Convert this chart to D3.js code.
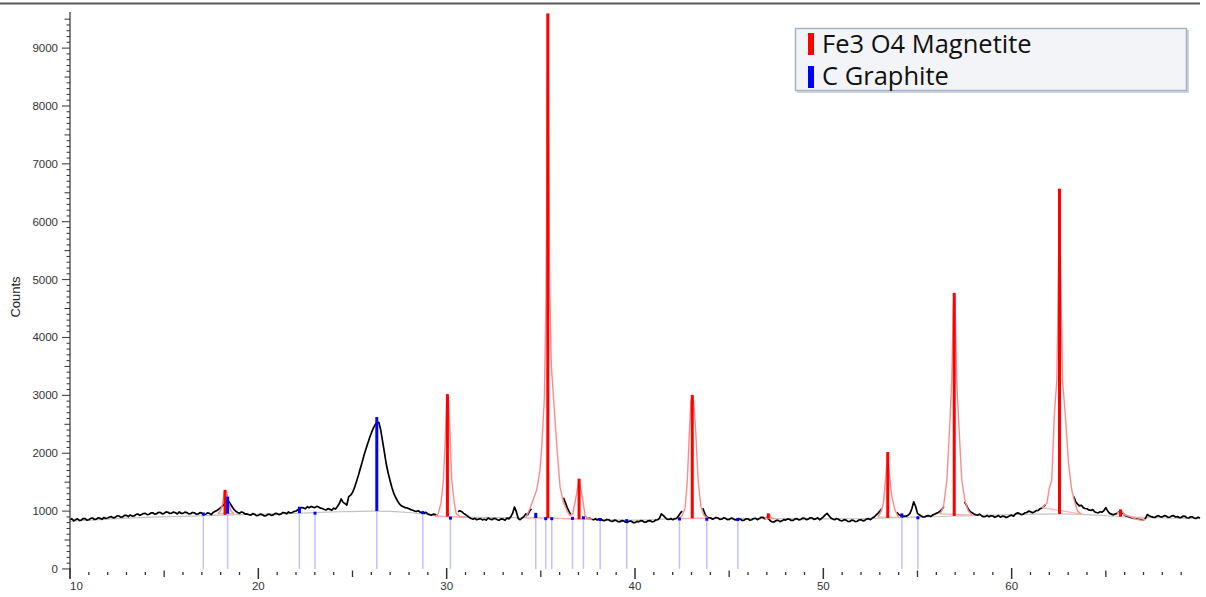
<!DOCTYPE html>
<html>
<head>
<meta charset="utf-8">
<script src="https://cdn.jsdelivr.net/npm/d3@7"></script>
<style>
  body { margin: 0; background: #fff; }
</style>
</head>
<body>
<div id="chart"></div>
<script>
// observed pattern, 2theta from 10 to 70 in 0.1 steps (null = hidden under calculated profile)
const obsStart = 10, obsStep = 0.1;
const obsCounts = [
  850, 868, 830, 852, 865, 838, 845, 872, 870, 842, 850, 875, 880, 855, 860, 884, 875, 858, 890, 872,
  880, 898, 905, 882, 890, 918, 915, 895, 900, 928, 925, 906, 935, 912, 915, 940, 950, 926, 940, 958,
  960, 938, 945, 968, 970, 948, 955, 978, 975, 952, 960, 985, 980, 958, 965, 982, 970, 950, 985, 962,
  960, 982, 975, 952, 955, 976, 970, 948, 950, 972, 965, 940, 945, 968, 960, 938, 975, 995, 1010, 1035,
  1060, 1090, 1120, 1150, 1180, 1130, 1080, 1030, 1000, 975, 960, 985, 975, 948, 950, 938, 930, 955, 945, 922,
  925, 948, 940, 918, 920, 942, 945, 925, 935, 960, 955, 938, 950, 975, 970, 952, 985, 968, 975, 995,
  1000, 1025, 1040, 1062, 1055, 1040, 1075, 1058, 1080, 1068, 1060, 1082, 1070, 1050, 1045, 1028, 1020, 1042, 1030, 1015,
  1050, 1035, 1080, 1130, 1210, 1150, 1130, 1105, 1250, 1275, 1320, 1400, 1500, 1600, 1720, 1830, 1950, 2060, 2160, 2260,
  2350, 2430, 2490, 2540, 2530, 2400, 2200, 2000, 1800, 1650, 1520, 1400, 1300, 1230, 1170, 1120, 1090, 1075, 1060, 1055,
  1040, 1025, 1015, 1000, 995, 1005, 980, 968, 965, 978, 950, 938, 930, 948, 940, 925, null, null, null, null,
  null, null, null, null, null, null, 990, 1005, 990, 960, 940, 915, 890, 872, 860, 875, 850, 862, 870, 848,
  860, 845, 880, 862, 850, 872, 870, 848, 845, 866, 860, 842, 880, 865, 900, 960, 1070, 990, 870, 852,
  880, 905, 950, 935, 1000, 1040, null, null, null, null, null, null, null, null, null, null, null, null, null, null,
  null, null, 1230, 1150, 1060, 990, 930, null, null, null, null, null, null, null, 890, 870, 875, 858, 850, 868,
  846, 868, 860, 838, 835, 855, 850, 828, 820, 842, 840, 818, 815, 836, 830, 808, 805, 826, 825, 802,
  800, 822, 815, 835, 830, 808, 810, 832, 835, 815, 820, 845, 850, 880, 950, 925, 890, 862, 855, 872,
  850, 868, 875, 910, 960, 1000, null, null, null, null, null, null, null, null, null, null, 1050, 960, 900, 885,
  885, 862, 870, 890, 880, 858, 860, 882, 875, 852, 855, 878, 870, 848, 850, 872, 860, 838, 845, 866,
  865, 842, 850, 872, 875, 852, 870, 892, 890, 868, 880, 862, 830, 812, 815, 838, 840, 818, 830, 852,
  845, 862, 860, 838, 840, 866, 870, 848, 855, 878, 875, 852, 860, 884, 880, 858, 865, 885, 850, 872,
  900, 935, 960, 920, 880, 862, 850, 872, 860, 838, 830, 852, 845, 822, 820, 842, 840, 818, 825, 848,
  850, 832, 840, 862, 870, 852, 880, 898, 930, 962, 1000, 1040, null, null, null, null, null, null, null, 980,
  940, 925, 905, 915, 910, 928, 960, 1040, 1160, 1080, 960, 935, 915, 898, 900, 918, 920, 905, 930, 945,
  960, 975, 1000, 1030, 1080, null, null, null, null, null, null, null, null, null, null, 1160, 1100, 1030, 990, 970,
  950, 935, 930, 948, 920, 902, 905, 925, 900, 918, 915, 892, 905, 922, 895, 912, 910, 888, 900, 920,
  930, 912, 950, 968, 960, 940, 945, 968, 975, 998, 990, 970, 985, 1008, 1010, 1040, 1050, 1080, 1110, null,
  null, null, null, null, null, null, null, null, null, null, null, null, null, 1250, 1160, 1120, 1090, 1100, 1060, 1045,
  1040, 1020, 1010, 1025, 990, 975, 970, 988, 980, 1010, 1060, 1000, 960, 948, 935, 950, 960, 985, 990, 960,
  930, 915, 905, 890, 880, 872, 875, 860, 860, 852, 850, 870, 940, 920, 905, 895, 890, 912, 920, 900,
  900, 922, 915, 892, 895, 918, 920, 898, 905, 888, 890, 912, 910, 885, 880, 902, 900, 878, 875, 895,
  880
];

// background curve
const bgPoints = [
  [10, 820], [12, 860], [14, 890], [16, 910], [18, 930], [20, 945], [22, 960],
  [24, 985], [26, 1000], [27, 995], [28, 975], [29, 940], [30, 905], [32, 890],
  [34, 885], [35.4, 880], [37, 862], [40, 845], [43, 875], [46, 870], [50, 865],
  [53.4, 880], [55, 895], [57, 915], [60, 940], [62.5, 950], [64, 940], [66, 900],
  [68, 880], [70, 870]
];

// calculated profile of the magnetite reflections
const calcProfiles = [
  [[17.85, 955], [18.0, 1010], [18.1, 1120], [18.18, 1300], [18.25, 1365], [18.32, 1330], [18.42, 1150], [18.55, 1000], [18.7, 955]],
  [[29.4, 905], [29.56, 960], [29.7, 1150], [29.83, 1537], [29.93, 2300], [30.0, 2900], [30.04, 3020], [30.1, 2900], [30.18, 2300], [30.27, 1537], [30.4, 1150], [30.5, 960], [30.7, 905], [31.0, 898]],
  [[34.2, 885], [34.43, 1048], [34.6, 1200], [34.78, 1364], [34.95, 1700], [35.05, 2113], [35.19, 2976], [35.28, 4800], [35.35, 8500], [35.37, 9500], [35.4, 8500], [35.47, 4800], [35.56, 3500], [35.67, 2976], [35.85, 2113], [36.02, 1420], [36.2, 1150], [36.4, 1000], [36.55, 920], [36.7, 960], [36.87, 1250], [37.03, 1540], [37.2, 1250], [37.35, 920], [37.5, 870], [37.7, 862]],
  [[42.3, 870], [42.5, 920], [42.66, 1048], [42.78, 1537], [42.89, 2400], [42.97, 2900], [43.04, 3005], [43.11, 2900], [43.22, 2400], [43.35, 1537], [43.5, 1076], [43.65, 930], [43.85, 878]],
  [[46.9, 872], [47.0, 900], [47.08, 950], [47.16, 930], [47.25, 880], [47.4, 870]],
  [[52.9, 895], [53.05, 980], [53.19, 1134], [53.33, 1653], [53.42, 1950], [53.5, 1653], [53.64, 1250], [53.8, 1020], [54.0, 890]],
  [[56.2, 950], [56.38, 1076], [56.56, 1537], [56.7, 2400], [56.82, 3264], [56.9, 4500], [56.95, 4767], [57.0, 4500], [57.08, 3264], [57.21, 2400], [57.35, 1537], [57.53, 1162], [57.7, 1000], [57.9, 930]],
  [[61.6, 1060], [61.87, 1134], [62.0, 1400], [62.13, 1537], [62.27, 2690], [62.4, 3264], [62.5, 5500], [62.54, 6560], [62.58, 5500], [62.7, 3264], [62.84, 2690], [63.02, 1825], [63.19, 1364], [63.35, 1150], [63.5, 1000], [63.7, 950]],
  [[65.6, 960], [65.7, 985], [65.78, 1010], [65.86, 990], [66.0, 940], [66.3, 900], [66.6, 860], [66.9, 840], [67.1, 855]]
];

// reference sticks
const magPos  = [18.23, 30.04, 35.37, 37.03, 43.04, 47.08, 53.42, 56.95, 62.54, 65.78];
const magTop  = [1365, 3020, 9600, 1560, 3005, 960, 2020, 4770, 6570, 1030];
const magBase = [935, 905, 880, 860, 875, 870, 880, 915, 950, 905];

const grPos  = [17.08, 18.37, 22.18, 23.01, 26.29, 28.73, 30.2, 34.73, 35.26, 35.58, 36.68, 37.26, 38.15, 39.56, 42.36, 43.81, 45.46, 54.17, 55.02];
const grTop  = [975, 1250, 1075, 990, 2625, 1000, 905, 970, 895, 895, 900, 910, 880, 860, 890, 885, 880, 960, 910];
const grBase = [940, 955, 965, 975, 1000, 960, 890, 880, 878, 876, 865, 860, 855, 840, 880, 875, 865, 890, 895];

const legendNames = ["Fe3 O4 Magnetite", "C Graphite"];
const legendColors = ["#ff0000", "#0000ff"];

const width = 1206, height = 597;

const svg = d3.select("#chart")
  .append("svg")
  .attr("width", width)
  .attr("height", height)
  .style("background-color", "#ffffff")
  .style("display", "block");

const x = d3.scaleLinear().domain([10, 70]).range([70, 1200]);
const y = d3.scaleLinear().domain([-70, 9600]).range([573, 13.4]);

// top border
svg.append("line")
  .attr("x1", 0).attr("x2", 1200)
  .attr("y1", 3.5).attr("y2", 3.5)
  .attr("stroke", "#5a5a5a")
  .attr("stroke-width", 2);

// faint graphite lines down to zero
svg.selectAll(".gr-faint")
  .data(grPos)
  .enter()
  .append("line")
  .attr("class", "gr-faint")
  .attr("x1", d => x(d)).attr("x2", d => x(d))
  .attr("y1", (d, i) => y(grBase[i]))
  .attr("y2", y(0))
  .attr("stroke", "#c2c2ff")
  .attr("stroke-width", 1.5);

// background
const line = d3.line()
  .x(d => x(d[0]))
  .y(d => y(d[1]));

svg.append("path")
  .datum(bgPoints)
  .attr("d", line.curve(d3.curveMonotoneX))
  .attr("fill", "none")
  .attr("stroke", "#c4c4c4")
  .attr("stroke-width", 1.2);

// observed
const obs = obsCounts.map((c, i) => [obsStart + i * obsStep, c]);
svg.append("path")
  .attr("d", d3.line()
    .defined(d => d[1] != null)
    .x(d => x(d[0]))
    .y(d => y(d[1]))(obs))
  .attr("fill", "none")
  .attr("stroke", "#000")
  .attr("stroke-width", 1.7)
  .attr("stroke-linejoin", "round");

// calculated profiles, with their background stretch
const plain = d3.line().x(d => x(d[0])).y(d => y(d[1]));
calcProfiles.forEach(p => {
  svg.append("line")
    .attr("x1", x(p[0][0])).attr("x2", x(p[p.length - 1][0]))
    .attr("y1", y(p[0][1])).attr("y2", y(p[p.length - 1][1]))
    .attr("stroke", "#ffb0b0")
    .attr("stroke-width", 1.2);
  svg.append("path")
    .attr("d", plain(p))
    .attr("fill", "none")
    .attr("stroke", "#ff8a8a")
    .attr("stroke-width", 1.4)
    .attr("stroke-linejoin", "round");
});

// magnetite sticks
svg.selectAll(".mag")
  .data(magPos)
  .enter()
  .append("rect")
  .attr("class", "mag")
  .attr("x", d => x(d) - 1.5)
  .attr("width", 3)
  .attr("y", (d, i) => y(magTop[i]))
  .attr("height", (d, i) => Math.max(3, y(magBase[i]) - y(magTop[i])))
  .attr("fill", "#ff0000");

// graphite sticks
svg.selectAll(".gr")
  .data(grPos)
  .enter()
  .append("rect")
  .attr("class", "gr")
  .attr("x", d => x(d) - 1.5)
  .attr("width", 3)
  .attr("y", (d, i) => y(grTop[i]))
  .attr("height", (d, i) => Math.max(3, y(grBase[i]) - y(grTop[i])))
  .attr("fill", "#0000ff");

// y axis
svg.append("line")
  .attr("x1", 70).attr("x2", 70)
  .attr("y1", 12).attr("y2", 578)
  .attr("stroke", "#333")
  .attr("stroke-width", 1.2);

const yTicks = d3.range(0, 9600, 100);
svg.selectAll(".ytick")
  .data(yTicks)
  .enter()
  .append("line")
  .attr("class", "ytick")
  .attr("x1", d => d % 1000 === 0 ? 62 : (d % 500 === 0 ? 64.5 : 66.5))
  .attr("x2", 70)
  .attr("y1", d => y(d)).attr("y2", d => y(d))
  .attr("stroke", "#333")
  .attr("stroke-width", 1);

svg.selectAll(".ylabel")
  .data(yTicks.filter(d => d % 1000 === 0))
  .enter()
  .append("text")
  .attr("class", "ylabel")
  .attr("x", 58)
  .attr("y", d => y(d))
  .attr("dy", "0.35em")
  .attr("text-anchor", "end")
  .attr("font-family", "Liberation Sans, Arial, sans-serif")
  .attr("font-size", "11.5px")
  .attr("fill", "#333")
  .text(d => d);

svg.append("text")
  .attr("transform", "translate(20, 297) rotate(-90)")
  .attr("text-anchor", "middle")
  .attr("font-family", "Liberation Sans, Arial, sans-serif")
  .attr("font-size", "13px")
  .attr("fill", "#222")
  .text("Counts");

// x axis ticks
const xTicks = d3.range(10, 70, 1);
svg.selectAll(".xtick")
  .data(xTicks)
  .enter()
  .append("line")
  .attr("class", "xtick")
  .attr("x1", d => x(d)).attr("x2", d => x(d))
  .attr("y1", d => d % 10 === 0 ? 568 : (d % 5 === 0 ? 570.5 : 572))
  .attr("y2", d => d % 10 === 0 ? 579 : (d % 5 === 0 ? 577 : 575))
  .attr("stroke", "#333")
  .attr("stroke-width", d => d % 10 === 0 ? 1.5 : 1.3);

svg.selectAll(".xlabel")
  .data(xTicks.filter(d => d % 10 === 0))
  .enter()
  .append("text")
  .attr("class", "xlabel")
  .attr("x", d => x(d))
  .attr("y", 590)
  .attr("text-anchor", d => d === 10 ? "start" : "middle")
  .attr("font-family", "Liberation Sans, Arial, sans-serif")
  .attr("font-size", "11.5px")
  .attr("fill", "#333")
  .text(d => d);

// legend
const legend = svg.append("g");
legend.append("rect")
  .attr("x", 797).attr("y", 30)
  .attr("width", 392).attr("height", 63)
  .attr("fill", "#d0d6df");
legend.append("rect")
  .attr("x", 795.5).attr("y", 28.5)
  .attr("width", 391).attr("height", 62)
  .attr("fill", "#f2f4f7")
  .attr("stroke", "#a8b4c6")
  .attr("stroke-width", 1.5);

legend.selectAll(".lg-bar")
  .data(legendNames)
  .enter()
  .append("rect")
  .attr("class", "lg-bar")
  .attr("x", 808)
  .attr("y", (d, i) => 33 + i * 33)
  .attr("width", 6)
  .attr("height", 22)
  .attr("fill", (d, i) => legendColors[i]);

legend.selectAll(".lg-text")
  .data(legendNames)
  .enter()
  .append("text")
  .attr("class", "lg-text")
  .attr("x", 822)
  .attr("y", (d, i) => 53 + i * 32)
  .attr("font-family", "Open Sans, Noto Sans, sans-serif")
  .attr("font-size", "25.5px")
  .attr("fill", "#111")
  .text(d => d);
</script>
</body>
</html>
